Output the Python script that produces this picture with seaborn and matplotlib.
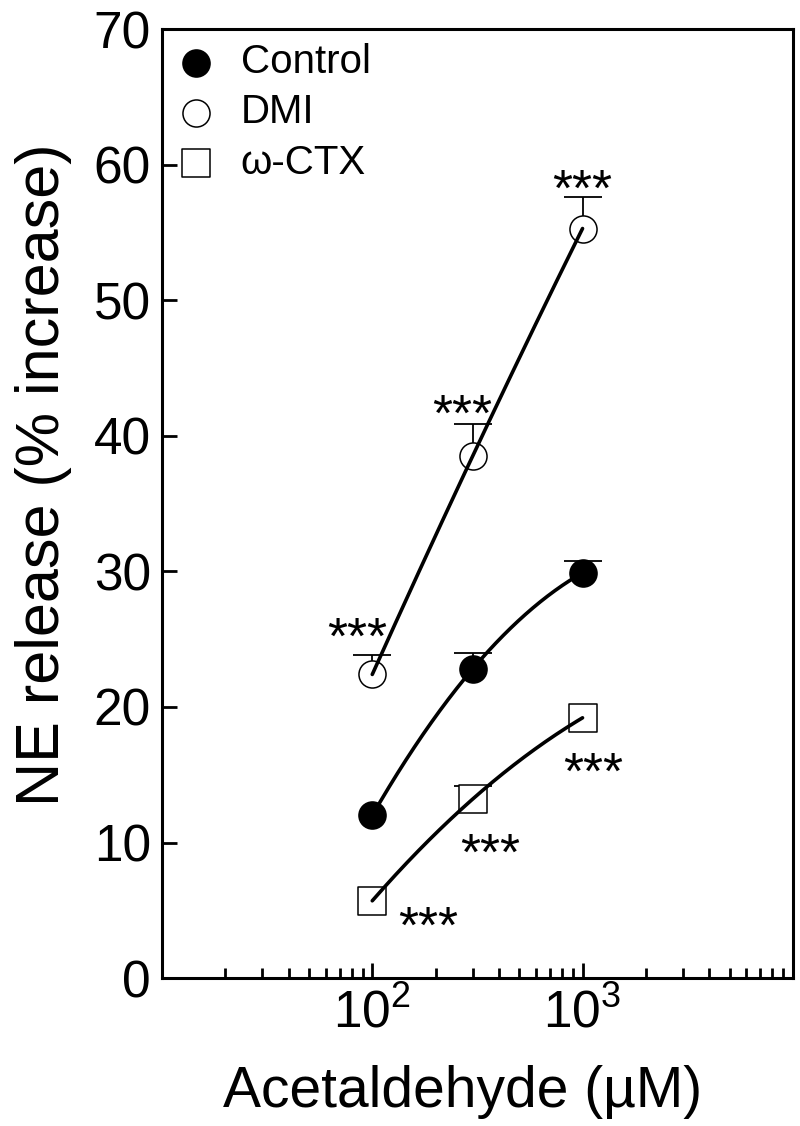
import numpy as np
import pandas as pd
import matplotlib
matplotlib.use('Agg')
import matplotlib.pyplot as plt
import seaborn as sns

sns.set_style('ticks')
plt.rcParams['font.family'] = ['Liberation Sans', 'DejaVu Sans']
plt.rcParams['mathtext.default'] = 'regular'
plt.rcParams['text.color'] = 'black'
plt.rcParams['axes.labelcolor'] = 'black'

# data
conc = [100, 300, 1000]
control = [12.0, 22.8, 29.9]
control_err = [0.0, 1.2, 0.9]
dmi = [22.4, 38.5, 55.3]
dmi_err = [1.4, 2.4, 2.3]
ctx = [5.7, 13.2, 19.2]
ctx_err = [0.0, 1.0, 0.0]

# significance marks: (x, y) where the *** sit
star_x = [85, 267, 1000, 184, 362, 1120]
star_y = [26.3, 42.8, 59.4, 5.0, 10.4, 16.4]

series = [
    ('Control', control, control_err, 'o', 'black'),
    ('DMI', dmi, dmi_err, 'o', 'white'),
    ('\u03c9-CTX', ctx, ctx_err, 's', 'white'),
]

fig = plt.figure(figsize=(8, 11.26), dpi=100)
ax = fig.add_axes([0.2025, 0.1314, 0.7885, 0.8426])

for name, vals, err, mk, fc in series:
    df = pd.DataFrame({'conc': conc, 'val': vals, 'err': err})
    # one-sided (upward) SEM bars, only where the bar shows past the marker
    e = df[df['err'] > 0]
    eb = ax.errorbar(e['conc'], e['val'], yerr=[np.zeros(len(e)), e['err']], fmt='none',
                     ecolor='black', elinewidth=1.3, capsize=14, capthick=1.3, zorder=1)
    for cl in eb[1]:
        if np.allclose(cl.get_ydata(), e['val']):
            cl.set_visible(False)
    sns.scatterplot(data=df, x='conc', y='val', marker=mk, s=380, color=fc,
                    edgecolor='black', linewidth=1.1, label=name, ax=ax, zorder=2)
    # smooth fitted curve (quadratic in log concentration)
    coef = np.polyfit(np.log10(conc), vals, 2)
    xs = np.logspace(np.log10(conc[0]), np.log10(conc[-1]), 200)
    fit = pd.DataFrame({'conc': xs, 'val': np.polyval(coef, np.log10(xs))})
    sns.lineplot(data=fit, x='conc', y='val', color='black', lw=2.6, ax=ax,
                 zorder=3, legend=False)

for sx, sy in zip(star_x, star_y):
    ax.text(sx, sy - 2.4, '***', fontsize=37, ha='center', va='baseline')

ax.set_xscale('log')
ax.set_xlim(10, 10000)
ax.set_ylim(0, 70)
ax.set_xticks([100, 1000])
ax.set_xticklabels([r'$10^2$', r'$10^3$'])
ax.set_yticks(range(0, 71, 10))
ax.tick_params(which='both', direction='in', width=2, labelsize=37, colors='black')
ax.tick_params(which='major', length=11, pad=8)
ax.tick_params(which='minor', length=7)
ax.tick_params(axis='y', which='minor', left=False)
for sp in ax.spines.values():
    sp.set_linewidth(2.2)
    sp.set_color('black')

ax.set_xlabel('Acetaldehyde (\u00b5M)', fontsize=41)
ax.xaxis.set_label_coords(0.477, -0.092)
ax.set_ylabel('NE release (% increase)', fontsize=44)
ax.yaxis.set_label_coords(-0.142, 0.53)

leg = ax.legend(loc='upper left', bbox_to_anchor=(0.0, 1.0), frameon=False,
                fontsize=29, handlelength=1.0, handletextpad=0.6,
                labelspacing=0.3, borderaxespad=0.15, borderpad=0.2)

fig.savefig('out.png', dpi=100)
